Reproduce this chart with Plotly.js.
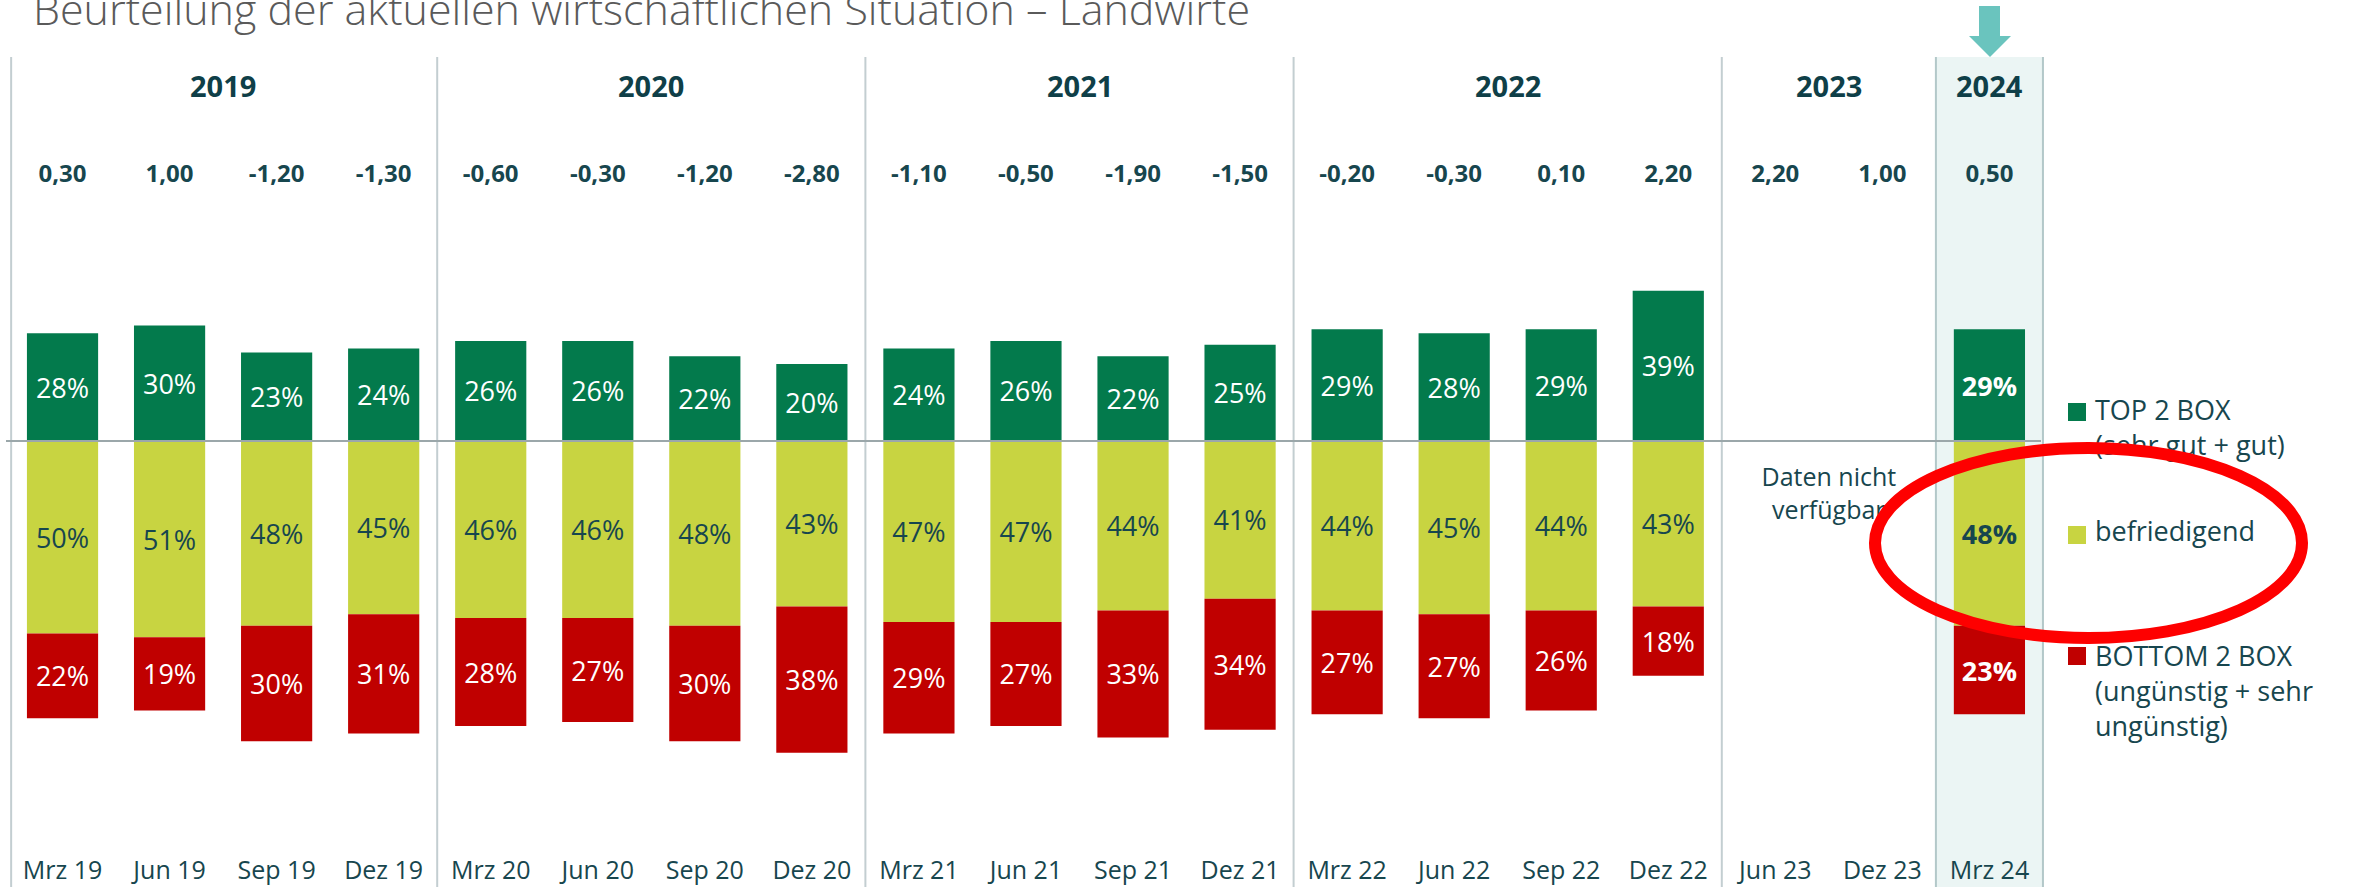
<!DOCTYPE html>
<html>
<head>
<meta charset="utf-8">
<script src="https://cdn.plot.ly/plotly-3.0.1.min.js"></script>
<style>
  html, body { margin: 0; padding: 0; background: #ffffff; }
  #chart { width: 2363px; height: 887px; }
</style>
</head>
<body>
<div id="chart"></div>
<script>
// Werte
const categories = ['Mrz 19', 'Jun 19', 'Sep 19', 'Dez 19',
                    'Mrz 20', 'Jun 20', 'Sep 20', 'Dez 20',
                    'Mrz 21', 'Jun 21', 'Sep 21', 'Dez 21',
                    'Mrz 22', 'Jun 22', 'Sep 22', 'Dez 22',
                    'Jun 23', 'Dez 23', 'Mrz 24'];
const top2box      = [28, 30, 23, 24, 26, 26, 22, 20, 24, 26, 22, 25, 29, 28, 29, 39, null, null, 29];
const befriedigend = [50, 51, 48, 45, 46, 46, 48, 43, 47, 47, 44, 41, 44, 45, 44, 43, null, null, 48];
const bottom2box   = [22, 19, 30, 31, 28, 27, 30, 38, 29, 27, 33, 34, 27, 27, 26, 18, null, null, 23];
const indexValues  = [0.30, 1.00, -1.20, -1.30, -0.60, -0.30, -1.20, -2.80, -1.10, -0.50, -1.90, -1.50,
                      -0.20, -0.30, 0.10, 2.20, 2.20, 1.00, 0.50];
const seriesNames  = ['TOP 2 BOX<br>(sehr gut + gut)', 'befriedigend',
                      'BOTTOM 2 BOX<br>(ungünstig + sehr<br>ungünstig)'];
const highlight    = 'Mrz 24';
const missingNote  = 'Daten nicht<br>verfügbar';
const chartTitle   = 'Beurteilung der aktuellen wirtschaftlichen Situation – Landwirte';

const FONT = 'Open Sans, sans-serif';
const TEAL = '#17464e';
const GREEN = '#037a4c', YELLOW = '#c8d441', RED = '#c00000';

// Plotfläche: 9..2363 x 57..887, eine Kategorie = 107.05 px
const PL = 9, PW = 2363 - 9, PT = 57, PH = 830;
const SLOT = 107.05;
const fx = px => (px - PL) / PW;
const fy = py => (PT + PH - py) / PH;
const dx = px => (px - PL) / SLOT - 0.5;
const PX_PER_PCT = 3.85, ZERO_PX = 441;
const dy = py => (ZERO_PX - py) / PX_PER_PCT;

const yearOf = c => '20' + c.slice(-2);
const pct = (v, i) => v == null ? '' :
  (categories[i] === highlight ? '<b>' + v + '%</b>' : v + '%');

let data = [
  { type: 'bar', name: seriesNames[0], x: categories, y: top2box,
    text: top2box.map(pct), marker: { color: GREEN },
    insidetextfont: { family: FONT, size: 27, color: '#ffffff' } },
  { type: 'bar', name: seriesNames[1], x: categories, y: befriedigend.map(v => v == null ? null : -v),
    text: befriedigend.map(pct), marker: { color: YELLOW },
    insidetextfont: { family: FONT, size: 27, color: TEAL } },
  { type: 'bar', name: seriesNames[2], x: categories, y: bottom2box.map(v => v == null ? null : -v),
    text: bottom2box.map(pct), marker: { color: RED },
    insidetextfont: { family: FONT, size: 27, color: '#ffffff' } }
];
data.forEach(t => {
  t.textposition = 'inside';
  t.insidetextanchor = 'middle';
  t.textangle = 0;
  t.constraintext = 'none';
  t.hoverinfo = 'skip';
  t.showlegend = false;
});

// Indexwerte über den Balken
data.push({
  type: 'scatter', mode: 'text', x: categories,
  y: categories.map(() => dy(176)),
  text: indexValues.map(v => v.toFixed(2).replace('.', ',')),
  textposition: 'middle center', cliponaxis: false, showlegend: false, hoverinfo: 'skip',
  textfont: { family: FONT, size: 24, color: TEAL, weight: 700 }
});

// Hinweis fehlende Daten (liegt unter der Ellipse)
data.push({
  type: 'scatter', mode: 'text', xaxis: 'x2', yaxis: 'y',
  x: [categories.indexOf('Jun 23') + 0.5], y: [dy(496)],
  text: [missingNote], textposition: 'middle center', cliponaxis: false,
  showlegend: false, hoverinfo: 'skip',
  textfont: { family: FONT, size: 25, color: TEAL }
});

// Legendentexte
const legendRowsPx = [431, 534, 694];
data.push({
  type: 'scatter', mode: 'text', xaxis: 'x2', yaxis: 'y',
  x: seriesNames.map(() => dx(2095)),
  y: legendRowsPx.map(dy),
  text: seriesNames, textposition: 'middle right', cliponaxis: false,
  showlegend: false, hoverinfo: 'skip',
  textfont: { family: FONT, size: 27, color: TEAL }
});

let shapes = [];
const n = categories.length;
const last = n - 1;
// Hervorhebung 2024
shapes.push({ type: 'rect', layer: 'below', xref: 'x', yref: 'paper',
  x0: last - 0.5, x1: last + 0.5, y0: 0, y1: 1,
  fillcolor: '#ebf5f4', line: { width: 0 } });
// Trennlinien zwischen den Jahren
let bounds = [-0.48];
for (let i = 1; i < n; i++) {
  if (yearOf(categories[i]) !== yearOf(categories[i - 1])) bounds.push(i - 0.5);
}
bounds.push(n - 0.5);
bounds.forEach(b => {
  const hl = b >= last - 0.5;
  shapes.push({ type: 'line', layer: 'below', xref: 'x', yref: 'paper',
    x0: b, x1: b, y0: 0, y1: 1,
    line: { color: hl ? '#b3c8c9' : '#c3ced1', width: 2 } });
});
// Nulllinie
shapes.push({ type: 'line', layer: 'above', xref: 'paper', yref: 'y',
  x0: fx(6), x1: fx(2041), y0: 0, y1: 0, line: { color: '#9ba7aa', width: 2 } });
// Pfeil
const P = (x, y) => fx(x) + ',' + fy(y);
shapes.push({ type: 'path', layer: 'above', xref: 'paper', yref: 'paper',
  path: 'M' + P(1979, 6) + 'L' + P(2000, 6) + 'L' + P(2000, 36) + 'L' + P(2011, 36) +
        'L' + P(1990, 57) + 'L' + P(1969, 36) + 'L' + P(1979, 36) + 'Z',
  fillcolor: '#6ac4be', line: { width: 0 } });
// Legendenquadrate
[[403, GREEN], [526, YELLOW], [647, RED]].forEach(([y, c]) => {
  shapes.push({ type: 'rect', layer: 'above', xref: 'paper', yref: 'paper',
    x0: fx(2068), x1: fx(2086), y0: fy(y), y1: fy(y + 18),
    fillcolor: c, line: { width: 0 } });
});
// rote Ellipse
shapes.push({ type: 'circle', layer: 'above', xref: 'paper', yref: 'paper',
  x0: fx(1875), x1: fx(2302), y0: fy(448), y1: fy(638),
  fillcolor: 'rgba(0,0,0,0)', line: { color: '#fe0000', width: 12 } });

// Jahresüberschriften
let annotations = [];
const yearList = [...new Set(categories.map(yearOf))];
yearList.forEach(yr => {
  const idx = categories.map((c, i) => yearOf(c) === yr ? i : -1).filter(i => i >= 0);
  annotations.push({ xref: 'x', yref: 'paper', x: (idx[0] + idx[idx.length - 1]) / 2, y: fy(86),
    text: yr, showarrow: false, xanchor: 'center', yanchor: 'middle',
    font: { family: FONT, size: 29, color: '#0f3f48', weight: 700 } });
});
annotations.push({ xref: 'paper', yref: 'paper', x: fx(31), y: fy(9), xanchor: 'left', yanchor: 'middle',
  text: chartTitle, showarrow: false,
  font: { family: FONT, size: 43, color: '#5a5a5a', weight: 300 } });

const layout = {
  width: 2363, height: 887,
  margin: { l: PL, r: 0, t: PT, b: 0, pad: 0 },
  paper_bgcolor: '#ffffff', plot_bgcolor: 'rgba(0,0,0,0)',
  barmode: 'relative', bargap: 0.335,
  showlegend: false,
  uniformtext: { mode: 'show', minsize: 27 },
  xaxis: { type: 'category', categoryarray: categories, range: [-0.5, dx(PL + PW)],
    showgrid: false, zeroline: false, showline: false, ticks: '',
    ticklabelposition: 'inside',
    tickfont: { family: FONT, size: 25, color: TEAL }, fixedrange: true },
  xaxis2: { overlaying: 'x', range: [-0.5, dx(PL + PW)], visible: false, fixedrange: true },
  yaxis: { range: [dy(PT + PH), dy(PT)],
    visible: false, showgrid: false, zeroline: false, fixedrange: true },
  shapes: shapes,
  annotations: annotations
};

Plotly.newPlot('chart', data, layout, { displayModeBar: false, staticPlot: true });
</script>
</body>
</html>
